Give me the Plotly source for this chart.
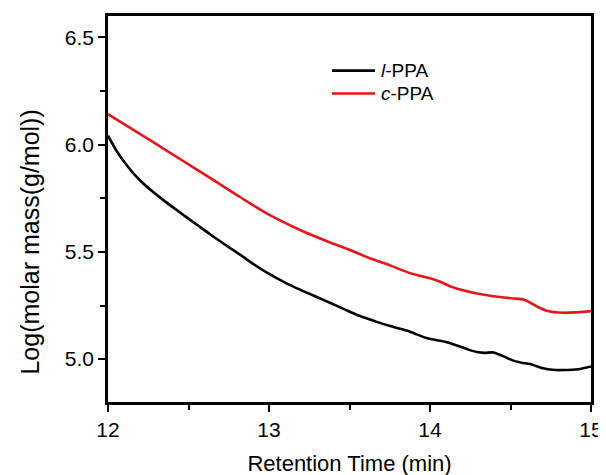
import plotly.graph_objects as go

# l-PPA (black)
t_l = [12.0, 12.05, 12.1, 12.15, 12.2, 12.26, 12.35, 12.447, 12.55, 12.634, 12.73, 12.82,
       12.91, 13.006, 13.1, 13.193, 13.29, 13.379, 13.47, 13.565, 13.66, 13.752, 13.876,
       13.979, 14.104, 14.228, 14.29, 14.34, 14.393, 14.45, 14.517, 14.57, 14.621,
       14.704, 14.76, 14.828, 14.921, 15.0]
v_l = [6.042, 5.975, 5.92, 5.873, 5.833, 5.792, 5.738, 5.684, 5.628, 5.582, 5.532, 5.487,
       5.44, 5.395, 5.357, 5.324, 5.292, 5.263, 5.232, 5.201, 5.176, 5.154, 5.128,
       5.098, 5.079, 5.047, 5.033, 5.029, 5.031, 5.015, 4.993, 4.983, 4.977,
       4.957, 4.950, 4.949, 4.953, 4.966]

# c-PPA (red)
t_c = [12.0, 12.13, 12.261, 12.45, 12.634, 12.82, 13.006, 13.193, 13.379, 13.503, 13.627,
       13.752, 13.876, 14.0, 14.06, 14.124, 14.2, 14.269, 14.393, 14.528, 14.58, 14.62,
       14.67, 14.725, 14.828, 14.911, 15.0]
v_c = [6.142, 6.082, 6.021, 5.932, 5.845, 5.756, 5.671, 5.602, 5.544, 5.509, 5.470,
       5.437, 5.401, 5.377, 5.362, 5.340, 5.322, 5.309, 5.293, 5.282, 5.278, 5.264,
       5.243, 5.226, 5.216, 5.218, 5.224]

series_names = ["<i>l</i>-PPA", "<i>c</i>-PPA"]
series_colors = ["black", "#e8141b"]

x_ticks = [12, 13, 14, 15]
y_ticks = [5.0, 5.5, 6.0, 6.5]
y_tick_labels = ["5.0", "5.5", "6.0", "6.5"]

FONT = "Liberation Sans, Arial, sans-serif"

fig = go.Figure()
for t, v, name, color in [(t_l, v_l, series_names[0], series_colors[0]),
                          (t_c, v_c, series_names[1], series_colors[1])]:
    fig.add_trace(go.Scatter(x=t, y=v, mode="lines", name=name, showlegend=False,
                             line=dict(color=color, width=2.6, shape="spline", smoothing=0.8)))

axis_common = dict(showline=True, linecolor="black", linewidth=2.7, mirror=True,
                   ticks="outside", ticklen=7, tickwidth=2, tickcolor="black",
                   showgrid=False, zeroline=False,
                   tickfont=dict(family=FONT, size=21, color="black"))

fig.update_xaxes(range=[12, 15], tickvals=x_ticks, ticktext=[str(v) for v in x_ticks],
                 minor=dict(dtick=0.5, tick0=12, ticks="outside", ticklen=5, tickwidth=2, tickcolor="black"),
                 title=dict(text="Retention Time (min)", font=dict(family=FONT, size=22, color="black"), standoff=16),
                 **axis_common)
fig.update_yaxes(range=[4.8, 6.6], tickvals=y_ticks, ticktext=y_tick_labels,
                 minor=dict(dtick=0.25, tick0=5.0, ticks="outside", ticklen=5, tickwidth=2, tickcolor="black"),
                 **axis_common)

# y-axis title placed as rotated text (centered a bit below the plot middle, as in the reference)
fig.add_annotation(xref="paper", yref="paper", x=-0.162, y=0.415, text="Log(molar mass(g/mol))",
                   textangle=-90, showarrow=False, xanchor="center", yanchor="middle",
                   font=dict(family=FONT, size=25, color="black"))

# manual legend (paper coordinates)
leg_y = [0.8585, 0.7993]
for i in range(2):
    fig.add_shape(type="line", xref="paper", yref="paper", x0=0.4638, x1=0.5528,
                  y0=leg_y[i], y1=leg_y[i], line=dict(color=series_colors[i], width=2.6))
    fig.add_annotation(xref="paper", yref="paper", x=0.561, y=leg_y[i], text=series_names[i],
                       showarrow=False, xanchor="left", yanchor="middle",
                       font=dict(family=FONT, size=19, color="black"))

fig.update_layout(
    width=606, height=475,
    margin=dict(l=100, r=23, t=5, b=81),
    plot_bgcolor="white", paper_bgcolor="white",
    showlegend=False,
)

fig.write_html("out.html")
